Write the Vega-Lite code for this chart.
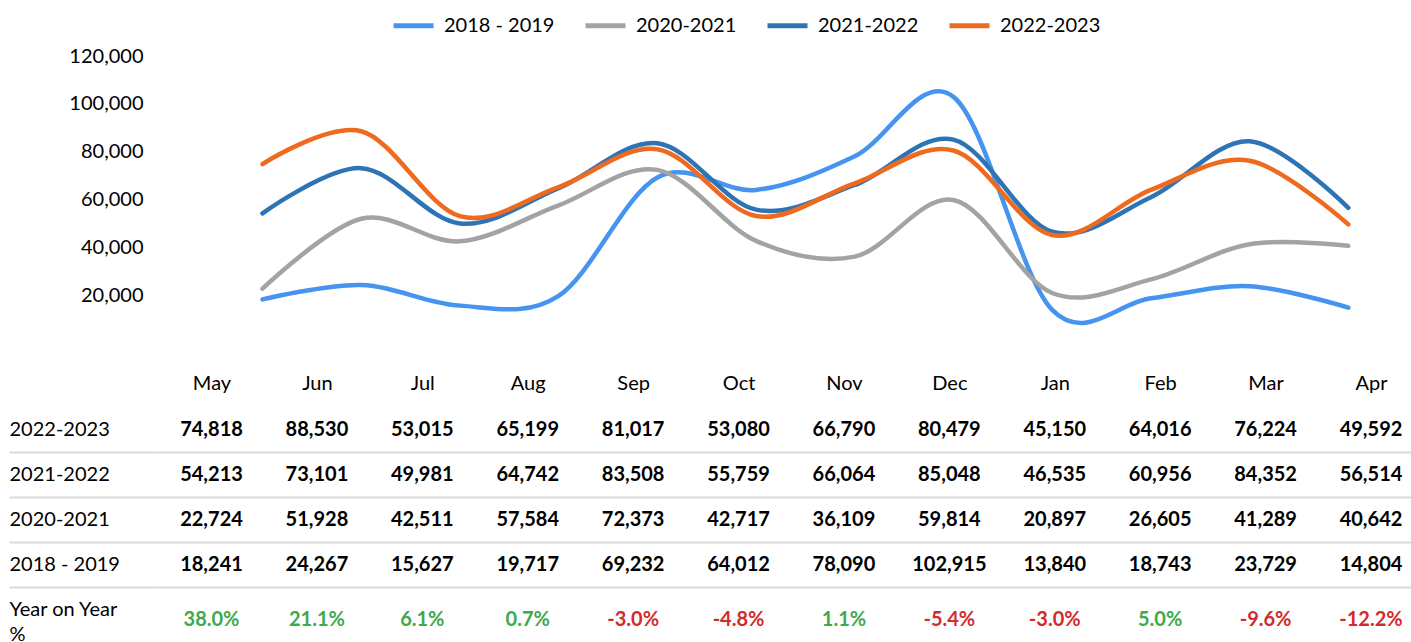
{
  "$schema": "https://vega.github.io/schema/vega-lite/v6.json",
  "padding": {"left": 8, "top": 3, "right": 0, "bottom": 0},
  "autosize": {"type": "pad"},
  "spacing": 30,
  "config": {
    "view": {"stroke": null},
    "font": "Lato",
    "text": {"font": "Lato"},
    "locale": {
      "number": {"decimal": ".", "thousands": ",", "grouping": [3], "currency": ["$", ""], "minus": "-", "percent": "%"}
    }
  },
  "datasets": {
    "sales": [
      {"m": "May", "s": "2018 - 2019", "v": 18241},
      {"m": "Jun", "s": "2018 - 2019", "v": 24267},
      {"m": "Jul", "s": "2018 - 2019", "v": 15627},
      {"m": "Aug", "s": "2018 - 2019", "v": 19717},
      {"m": "Sep", "s": "2018 - 2019", "v": 69232},
      {"m": "Oct", "s": "2018 - 2019", "v": 64012},
      {"m": "Nov", "s": "2018 - 2019", "v": 78090},
      {"m": "Dec", "s": "2018 - 2019", "v": 102915},
      {"m": "Jan", "s": "2018 - 2019", "v": 13840},
      {"m": "Feb", "s": "2018 - 2019", "v": 18743},
      {"m": "Mar", "s": "2018 - 2019", "v": 23729},
      {"m": "Apr", "s": "2018 - 2019", "v": 14804},
      {"m": "May", "s": "2020-2021", "v": 22724},
      {"m": "Jun", "s": "2020-2021", "v": 51928},
      {"m": "Jul", "s": "2020-2021", "v": 42511},
      {"m": "Aug", "s": "2020-2021", "v": 57584},
      {"m": "Sep", "s": "2020-2021", "v": 72373},
      {"m": "Oct", "s": "2020-2021", "v": 42717},
      {"m": "Nov", "s": "2020-2021", "v": 36109},
      {"m": "Dec", "s": "2020-2021", "v": 59814},
      {"m": "Jan", "s": "2020-2021", "v": 20897},
      {"m": "Feb", "s": "2020-2021", "v": 26605},
      {"m": "Mar", "s": "2020-2021", "v": 41289},
      {"m": "Apr", "s": "2020-2021", "v": 40642},
      {"m": "May", "s": "2021-2022", "v": 54213},
      {"m": "Jun", "s": "2021-2022", "v": 73101},
      {"m": "Jul", "s": "2021-2022", "v": 49981},
      {"m": "Aug", "s": "2021-2022", "v": 64742},
      {"m": "Sep", "s": "2021-2022", "v": 83508},
      {"m": "Oct", "s": "2021-2022", "v": 55759},
      {"m": "Nov", "s": "2021-2022", "v": 66064},
      {"m": "Dec", "s": "2021-2022", "v": 85048},
      {"m": "Jan", "s": "2021-2022", "v": 46535},
      {"m": "Feb", "s": "2021-2022", "v": 60956},
      {"m": "Mar", "s": "2021-2022", "v": 84352},
      {"m": "Apr", "s": "2021-2022", "v": 56514},
      {"m": "May", "s": "2022-2023", "v": 74818},
      {"m": "Jun", "s": "2022-2023", "v": 88530},
      {"m": "Jul", "s": "2022-2023", "v": 53015},
      {"m": "Aug", "s": "2022-2023", "v": 65199},
      {"m": "Sep", "s": "2022-2023", "v": 81017},
      {"m": "Oct", "s": "2022-2023", "v": 53080},
      {"m": "Nov", "s": "2022-2023", "v": 66790},
      {"m": "Dec", "s": "2022-2023", "v": 80479},
      {"m": "Jan", "s": "2022-2023", "v": 45150},
      {"m": "Feb", "s": "2022-2023", "v": 64016},
      {"m": "Mar", "s": "2022-2023", "v": 76224},
      {"m": "Apr", "s": "2022-2023", "v": 49592}
    ],
    "yoy": [
      {"m": "May", "s": "Year on Year %", "p": 0.380},
      {"m": "Jun", "s": "Year on Year %", "p": 0.211},
      {"m": "Jul", "s": "Year on Year %", "p": 0.061},
      {"m": "Aug", "s": "Year on Year %", "p": 0.007},
      {"m": "Sep", "s": "Year on Year %", "p": -0.030},
      {"m": "Oct", "s": "Year on Year %", "p": -0.048},
      {"m": "Nov", "s": "Year on Year %", "p": 0.011},
      {"m": "Dec", "s": "Year on Year %", "p": -0.054},
      {"m": "Jan", "s": "Year on Year %", "p": -0.030},
      {"m": "Feb", "s": "Year on Year %", "p": 0.050},
      {"m": "Mar", "s": "Year on Year %", "p": -0.096},
      {"m": "Apr", "s": "Year on Year %", "p": -0.122}
    ]
  },
  "vconcat": [
    {
      "width": 1224,
      "height": 287,
      "data": {"name": "sales"},
      "mark": {"type": "line", "interpolate": "cardinal", "strokeWidth": 4.5, "strokeCap": "round"},
      "encoding": {
        "x": {
          "field": "m", "type": "ordinal",
          "sort": ["May", "Jun", "Jul", "Aug", "Sep", "Oct", "Nov", "Dec", "Jan", "Feb", "Mar", "Apr"],
          "scale": {"type": "point", "padding": 0.7, "align": 0.749},
          "axis": null
        },
        "y": {
          "field": "v", "type": "quantitative",
          "scale": {"domain": [0, 120000], "nice": false},
          "axis": {
            "values": [20000, 40000, 60000, 80000, 100000, 120000],
            "format": ",d",
            "domain": false, "ticks": false, "grid": false,
            "labelPadding": 16,
            "labelFontSize": 20, "labelColor": "#000000",
            "labelFont": "Lato",
            "title": null
          }
        },
        "color": {
          "field": "s", "type": "nominal",
          "scale": {
            "domain": ["2018 - 2019", "2020-2021", "2021-2022", "2022-2023"],
            "range": ["#4693F0", "#A3A3A3", "#2E74B5", "#EE6A1F"]
          },
          "legend": {
            "orient": "none", "legendX": 232, "legendY": -53,
            "direction": "horizontal", "title": null,
            "symbolType": "stroke", "symbolSize": 1600, "symbolStrokeWidth": 5,
            "labelFontSize": 20, "labelFont": "Lato", "labelColor": "#000000",
            "columnPadding": 20, "labelOffset": 8, "labelLimit": 0
          }
        }
      }
    },
    {
      "width": 1253,
      "height": 225,
      "layer": [
        {
          "data": {"name": "sales"},
          "mark": {"type": "text", "fontSize": 20, "fontWeight": "bold", "color": "#000000", "font": "Lato"},
          "encoding": {
            "x": {
              "field": "m", "type": "ordinal",
              "sort": ["May", "Jun", "Jul", "Aug", "Sep", "Oct", "Nov", "Dec", "Jan", "Feb", "Mar", "Apr"],
              "scale": {"type": "point", "padding": 0.4435, "align": 0.5615},
              "axis": {
                "orient": "top", "domain": false, "ticks": false, "labelAngle": 0,
                "labelPadding": 14, "labelFontSize": 20, "labelColor": "#000000",
                "labelFont": "Lato", "title": null
              }
            },
            "y": {
              "field": "s", "type": "nominal",
              "scale": {
                "type": "band",
                "domain": ["2022-2023", "2021-2022", "2020-2021", "2018 - 2019", "Year on Year %"],
                "paddingInner": 0, "paddingOuter": 0
              },
              "axis": {
                "title": null, "domain": false,
                "bandPosition": 1,
                "ticks": true, "tickSize": 150, "tickWidth": 2, "tickColor": "#D9D9D9",
                "tickOpacity": {"condition": {"test": "datum.value === 'Year on Year %'", "value": 0}, "value": 1},
                "grid": true, "gridWidth": 2, "gridColor": "#D9D9D9",
                "gridOpacity": {"condition": {"test": "datum.value === 'Year on Year %'", "value": 0}, "value": 1},
                "labelAlign": "left", "labelPadding": 0, "labelOffset": 0,
                "labelFontSize": 20, "labelColor": "#000000", "labelFont": "Lato",
                "labelLineHeight": 25, "labelLimit": 0,
                "labelExpr": "datum.value === 'Year on Year %' ? ['Year on Year', '%'] : datum.value"
              }
            },
            "text": {"field": "v", "type": "quantitative", "format": ","}
          }
        },
        {
          "data": {"name": "yoy"},
          "mark": {"type": "text", "fontSize": 20, "fontWeight": "bold", "dy": 10, "font": "Lato"},
          "encoding": {
            "x": {
              "field": "m", "type": "ordinal",
              "sort": ["May", "Jun", "Jul", "Aug", "Sep", "Oct", "Nov", "Dec", "Jan", "Feb", "Mar", "Apr"]
            },
            "y": {"field": "s", "type": "nominal"},
            "text": {"field": "p", "type": "quantitative", "format": ".1%"},
            "color": {
              "condition": {"test": "datum.p < 0", "value": "#D42A2A"},
              "value": "#3DAA4B"
            }
          }
        }
      ]
    }
  ]
}
